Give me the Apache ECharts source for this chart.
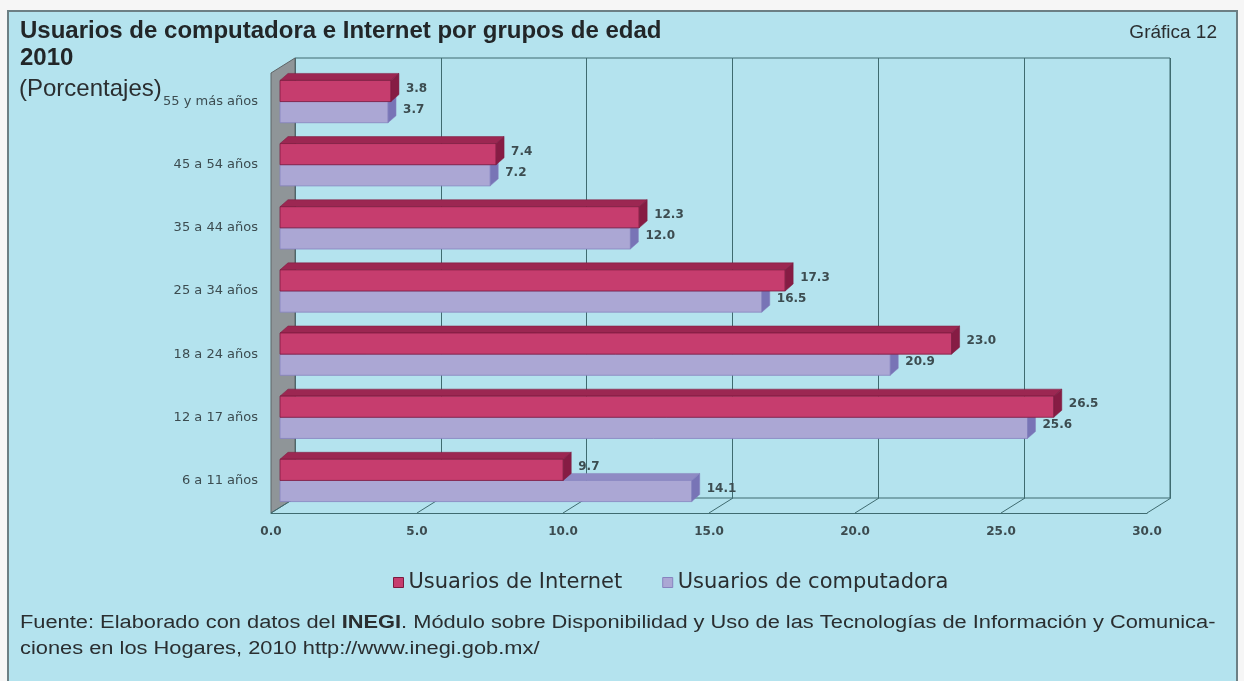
<!DOCTYPE html>
<html><head><meta charset="utf-8">
<script src="https://cdn.jsdelivr.net/npm/echarts@6/dist/echarts.min.js"></script>
<style>html,body{margin:0;padding:0;background:#f6f6f6}#c{width:1244px;height:681px}</style>
</head><body><div id="c"></div>
<script>
var categories = ['55 y más años','45 a 54 años','35 a 44 años','25 a 34 años','18 a 24 años','12 a 17 años','6 a 11 años'];
var internet = [3.8, 7.4, 12.3, 17.3, 23.0, 26.5, 9.7];
var computadora = [3.7, 7.2, 12.0, 16.5, 20.9, 25.6, 14.1];
var xTicks = [0, 5, 10, 15, 20, 25, 30];
var seriesNames = ['Usuarios de Internet', 'Usuarios de computadora'];

var BG = '#b4e3ee';
var GRID = '#3f6b70';
var TXT = '#2a2e30';
var DX = 8, DY = 7;
var colors = [
  {front:'#c63d6e', top:'#9c2752', cap:'#861c44', border:'#7c1a3f'},
  {front:'#aba7d4', top:'#8f8bc4', cap:'#7874b6', border:'#8783bf'}
];

function barRender(which){
  return function(params, api){
    var cat = api.value(0), v = api.value(1);
    var p0 = api.coord([0, cat]), p1 = api.coord([v, cat]);
    var band = api.size([0, 1])[1];
    var h = band * 0.335;
    var y0 = which === 0 ? p0[1] - h : p0[1];
    var x0 = p0[0], x1 = p1[0];
    var c = colors[which];
    return {type:'group', children:[
      {type:'polygon', shape:{points:[[x0,y0],[x1,y0],[x1+DX,y0-DY],[x0+DX,y0-DY]]}, style:{fill:c.top, stroke:c.border, lineWidth:0.5}},
      {type:'rect', shape:{x:x0, y:y0, width:x1-x0, height:h}, style:{fill:c.front, stroke:c.border, lineWidth:0.8}},
      {type:'polygon', shape:{points:[[x1,y0],[x1+DX,y0-DY],[x1+DX,y0+h-DY],[x1,y0+h]]}, style:{fill:c.cap, stroke:c.border, lineWidth:0.5}},
      {type:'text', x:x1+DX+7, y:y0+h/2-DY/2+1, style:{text:v.toFixed(1), fill:'#3c4c50', font:'bold 12px "DejaVu Sans"', verticalAlign:'middle'}}
    ]};
  };
}

function floorRender(params, api){
  var v = api.value(0);
  var a = api.coord([v, 0]);
  var ch = [{type:'line', shape:{x1:a[0], y1:a[1], x2:a[0]+24, y2:a[1]-15}, style:{stroke:GRID, lineWidth:1}}];
  if (params.dataIndex === 0){
    var t = api.coord([v, 1]);
    ch.unshift({type:'polygon', shape:{points:[[a[0],a[1]],[t[0],t[1]],[t[0]+24,t[1]-15],[a[0]+24,a[1]-15]]}, style:{fill:'#8f9598', stroke:'#5d6466', lineWidth:1}});
  }
  return {type:'group', children:ch};
}

var chart = echarts.init(document.getElementById('c'));
chart.setOption({
  backgroundColor:'#f6f6f6',
  animation:false,
  graphic:[
    {type:'rect', z:-10, shape:{x:8, y:11, width:1229, height:680}, style:{fill:BG, stroke:'#6c7f84', lineWidth:2}},
    {type:'text', x:20, y:610, scaleX:1.213, style:{
      text:'{n|Fuente: Elaborado con datos del }{b|INEGI}{n|. Módulo sobre Disponibilidad y Uso de las Tecnologías de Información y Comunica-}\n{n|ciones en los Hogares, 2010 http://www.inegi.gob.mx/}',
      rich:{n:{font:'18px "Liberation Sans"', fill:TXT, lineHeight:26}, b:{font:'bold 18px "Liberation Sans"', fill:TXT, lineHeight:26}}}}
  ],
  title:[
    {text:'Usuarios de computadora e Internet por grupos de edad', left:20, top:19, padding:0, textStyle:{fontFamily:'Liberation Sans', fontSize:24, fontWeight:'bold', color:'#222628'}},
    {text:'2010', left:20, top:46, padding:0, textStyle:{fontFamily:'Liberation Sans', fontSize:24, fontWeight:'bold', color:'#222628'}},
    {text:'(Porcentajes)', left:19, top:77, padding:0, textStyle:{fontFamily:'Liberation Sans', fontSize:24, fontWeight:'normal', color:TXT}},
    {text:'Gráfica 12', right:27, top:23, padding:0, textStyle:{fontFamily:'Liberation Sans', fontSize:19, fontWeight:'normal', color:TXT}}
  ],
  legend:{data:seriesNames, left:388, top:567, icon:'rect', itemWidth:10, itemHeight:10, itemGap:40,
    itemStyle:{borderWidth:1},
    textStyle:{fontFamily:'DejaVu Sans', fontSize:21, color:TXT, padding:[0,0,0,0]}},
  grid:[
    {left:271, top:73, width:876, height:440},
    {left:280, top:70, width:876, height:442},
    {left:295, top:58, width:875, height:440, show:true, borderColor:GRID, borderWidth:1, backgroundColor:'transparent'}
  ],
  xAxis:[
    {gridIndex:0, type:'value', min:0, max:30, interval:5, axisLine:{show:true, lineStyle:{color:GRID}}, axisTick:{show:false}, splitLine:{show:false},
     axisLabel:{margin:13, color:'#3c4c50', fontFamily:'DejaVu Sans', fontSize:12, fontWeight:'bold', formatter:function(v){return v.toFixed(1);}}},
    {gridIndex:1, type:'value', min:0, max:30, show:false},
    {gridIndex:2, type:'value', min:0, max:30, interval:5, axisLine:{show:false}, axisTick:{show:false}, axisLabel:{show:false}, splitLine:{show:true, lineStyle:{color:GRID, width:1}}}
  ],
  yAxis:[
    {gridIndex:0, type:'value', min:0, max:1, show:false},
    {gridIndex:1, type:'category', inverse:true, data:categories, axisLine:{show:false}, axisTick:{show:false},
     axisLabel:{margin:22, color:'#3c4c50', fontFamily:'DejaVu Sans', fontSize:13}},
    {gridIndex:2, type:'value', min:0, max:1, show:false, splitLine:{show:false}}
  ],
  series:[
    {name:'floor', type:'custom', xAxisIndex:0, yAxisIndex:0, z:1, renderItem:floorRender, data:xTicks.map(function(v){return [v];}), encode:{x:0}, silent:true},
    {name:seriesNames[0], type:'custom', xAxisIndex:1, yAxisIndex:1, z:4, renderItem:barRender(0),
     itemStyle:{color:colors[0].front, borderColor:colors[0].border, borderWidth:1},
     data:internet.map(function(v,i){return [i, v];}), encode:{x:1, y:0}},
    {name:seriesNames[1], type:'custom', xAxisIndex:1, yAxisIndex:1, z:3, renderItem:barRender(1),
     itemStyle:{color:colors[1].front, borderColor:colors[1].border, borderWidth:1},
     data:computadora.map(function(v,i){return [i, v];}), encode:{x:1, y:0}}
  ]
});
</script></body></html>
